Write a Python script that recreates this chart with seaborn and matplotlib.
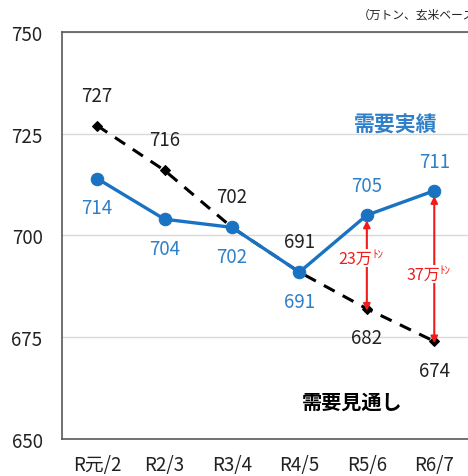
import numpy as np
import pandas as pd
import matplotlib
matplotlib.use("Agg")
import matplotlib.pyplot as plt
import seaborn as sns

# data
periods = ["R元/2", "R2/3", "R3/4", "R4/5", "R5/6", "R6/7"]
actual = [714, 704, 702, 691, 705, 711]
forecast = [727, 716, 702, 691, 682, 674]
gap_labels = {4: "23万", 5: "37万"}

sns.set_style("white")
plt.rcParams['font.family'] = ['Noto Sans CJK JP', 'DejaVu Sans']

BLUE = "#1a73c2"
LBLUE = "#2f80c8"
RED = "#f01c1c"
FS = 13.5

fig = plt.figure(figsize=(4.68, 4.77), dpi=100)
ax = fig.add_axes([0.1325, 0.0776, 0.8675, 0.8532])

df = pd.DataFrame({"period": periods, "x": np.arange(len(periods)),
                   "actual": actual, "forecast": forecast})

sns.lineplot(data=df, x="x", y="forecast", ax=ax, color="black", lw=2.2,
             marker="D", markersize=5, markeredgecolor="black", zorder=3)
ax.lines[-1].set_dashes([4, 3])
sns.lineplot(data=df, x="x", y="actual", ax=ax, color=BLUE, lw=2.4,
             marker="o", markersize=9, markeredgecolor=BLUE, zorder=4)

ax.set_xlim(-0.52, 5.5)
ax.set_ylim(650, 750)
ax.set_yticks([650, 675, 700, 725, 750])
ax.set_xticks(df["x"])
ax.set_xticklabels(periods)
ax.tick_params(axis="both", labelsize=FS, length=0, colors="#222222")
ax.tick_params(axis="x", pad=11)
ax.tick_params(axis="y", pad=14)
ax.set_xlabel("")
ax.set_ylabel("")
ax.yaxis.grid(True, color="#d9d9d9", lw=1)
ax.set_axisbelow(True)
for s in ["left", "bottom", "top"]:
    ax.spines[s].set_color("#595959")
    ax.spines[s].set_linewidth(1.2)
ax.spines["right"].set_visible(False)

# actual labels (blue)
act_off = [-21, -21, -21, -21, 21, 21]
for i, v in enumerate(actual):
    ax.annotate(str(v), (i, v), xytext=(0, act_off[i]), textcoords="offset points",
                ha="center", va="center", fontsize=FS, color=LBLUE)

# forecast labels (black)
fc_off = [22, 22, 22, 22, -21, -21]
for i, v in enumerate(forecast):
    ax.annotate(str(v), (i, v), xytext=(0, fc_off[i]), textcoords="offset points",
                ha="center", va="center", fontsize=FS, color="#222222")

# gap arrows
gap_y = {4: 694.4, 5: 690.5}
for i, lab in gap_labels.items():
    top, bot = actual[i], forecast[i]
    ax.annotate("", xy=(i, top - 1.3), xytext=(i, bot - 0.5),
                arrowprops=dict(arrowstyle="<|-|>", color=RED, lw=1.5,
                                mutation_scale=10, shrinkA=0, shrinkB=0), zorder=5)
    ax.annotate(lab, (i, gap_y[i]), xytext=(4, 0), textcoords="offset points",
                ha="right", va="center", fontsize=11.5, color=RED, zorder=6,
                bbox=dict(facecolor="white", edgecolor="none", pad=0.5))
    ax.annotate("ﾄﾝ", (i, gap_y[i]), xytext=(4, 3), textcoords="offset points",
                ha="left", va="center", fontsize=8, color=RED, zorder=7)

ax.text(4.42, 727.4, "需要実績", ha="center", va="center", fontsize=15,
        fontweight="bold", color=LBLUE)
ax.text(3.78, 659.3, "需要見通し", ha="center", va="center", fontsize=14.5,
        fontweight="bold", color="black")
fig.text(0.765, 0.969, "（万トン、玄米ベース）", ha="left", va="center",
         fontsize=8.5, color="#222222")

fig.savefig("out.png", dpi=100)
